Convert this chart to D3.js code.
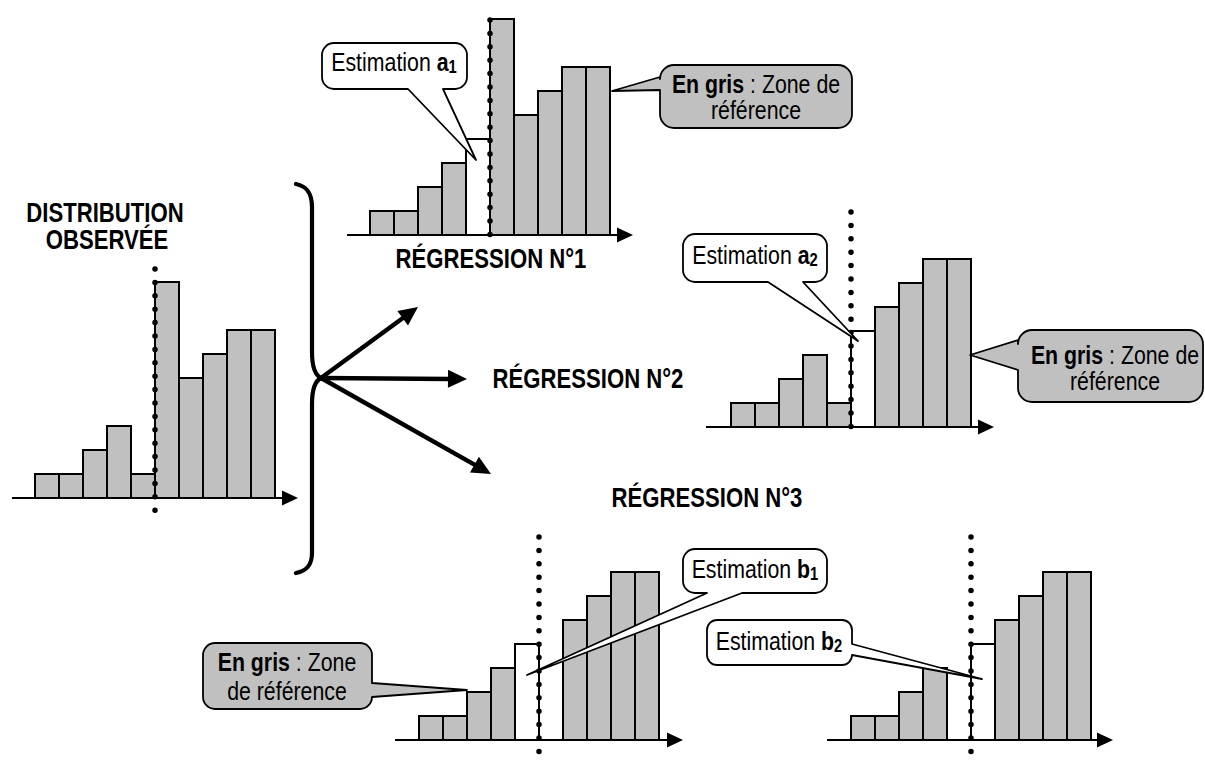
<!DOCTYPE html>
<html><head><meta charset="utf-8">
<script src="https://cdn.jsdelivr.net/npm/d3@7"></script>
<style>body{margin:0;background:#fff}svg{display:block}</style>
</head><body>
<svg id="c" width="1205" height="760"></svg>
<script>
// ---------- DATA ----------
const bins = ["1","2","3","4","5","6","7","8","9","10"];
const observed      = [1, 1, 2, 3, 1, 9, 5, 6, 7, 7];
const regression1   = [1, 1, 2, 3, 4, 9, 5, 6, 7, 7];      // bin 5 = estimation a1
const regression2   = [1, 1, 2, 3, 1, 4, 5, 6, 7, 7];      // bin 6 = estimation a2
const regression3b1 = [1, 1, 2, 3, 4, null, 5, 6, 7, 7];   // bin 5 = estimation b1
const regression3b2 = [1, 1, 2, 3, null, 4, 5, 6, 7, 7];   // bin 6 = estimation b2
const estimated1 = ["5"], estimated2 = ["6"], estimated3b1 = ["5"], estimated3b2 = ["6"];
const cutBin = "6";
const titles = ["DISTRIBUTION", "OBSERVÉE", "RÉGRESSION N°1", "RÉGRESSION N°2", "RÉGRESSION N°3"];
const estLabel = "Estimation ";
const estSymbols = [["a","1"],["a","2"],["b","1"],["b","2"]];
const refBold = "En gris", refRest = " : Zone de", refLine2 = "référence";

// ---------- SETUP ----------
const svg = d3.select("#c");
const BAR_W = 24, UNIT = 24, GREY = "#c0c0c0";
const yMax = d3.max(observed);

function measure(font){
  const t = svg.append("text").style("font", font).text("DISTRIBUTION Estimation référence");
  const w = t.node().getComputedTextLength(); t.remove(); return w;
}
const narrowOK = measure("24px 'Liberation Sans Narrow', 'Liberation Sans'") / measure("24px 'Liberation Sans'") < 0.9;
const FAMILY = narrowOK ? "'Liberation Sans Narrow', 'Arial Narrow', 'Liberation Sans', sans-serif" : "'Liberation Sans', Arial, sans-serif";

const panels = [
  {values: observed,      est: [],           x0: 35,  base: 498, axis: [12, 298],  dot: [269, 522]},
  {values: regression1,   est: estimated1,   x0: 370, base: 235, axis: [347, 633], dot: [20, 235]},
  {values: regression2,   est: estimated2,   x0: 731, base: 427, axis: [706, 994], dot: [212, 427]},
  {values: regression3b1, est: estimated3b1, x0: 419, base: 740, axis: [395, 683], dot: [537, 762]},
  {values: regression3b2, est: estimated3b2, x0: 851, base: 740, axis: [827, 1113], dot: [537, 762]},
];

const gBars = svg.append("g");
panels.forEach(p => {
  const x = d3.scaleBand().domain(bins).range([p.x0, p.x0 + bins.length * BAR_W]);
  const y = d3.scaleLinear().domain([0, yMax]).range([p.base, p.base - yMax * UNIT]);
  const g = gBars.append("g");
  const data = bins.map((b, i) => ({b, v: p.values[i], est: p.est.includes(b)})).filter(d => d.v != null);
  g.selectAll("rect").data(data).join("rect")
    .attr("x", d => x(d.b)).attr("y", d => y(d.v))
    .attr("width", x.bandwidth()).attr("height", d => y(0) - y(d.v))
    .attr("fill", d => d.est ? "#fff" : GREY)
    .attr("stroke", "#000").attr("stroke-width", 2);
  const ab = y(0);
  g.append("line").attr("x1", p.axis[0]).attr("x2", p.axis[1] - 12).attr("y1", ab).attr("y2", ab)
    .attr("stroke", "#000").attr("stroke-width", 2.2);
  g.append("path").attr("d", `M${p.axis[1]},${ab} L${p.axis[1]-16},${ab-7.5} L${p.axis[1]-16},${ab+7.5} Z`).attr("fill", "#000");
  const cx = x(cutBin);
  g.append("line").attr("x1", cx).attr("x2", cx).attr("y1", p.dot[0]).attr("y2", p.dot[1])
    .attr("stroke", "#000").attr("stroke-width", 5.5).attr("stroke-linecap", "round")
    .attr("stroke-dasharray", "0 13.4");
});

// ---------- BRACE + ARROWS ----------
svg.append("path")
  .attr("d", "M296,184 C306,186 312,192 312,207 L312,352 C312,368 315,375 321,378 C315,381 312,388 312,404 L312,553 C312,566 306,571 296,573")
  .attr("fill", "none").attr("stroke", "#000").attr("stroke-width", 4.2).attr("stroke-linecap", "round");

function arrow(x1, y1, x2, y2){
  const L = 19, hw = 9;
  const dx = x2 - x1, dy = y2 - y1, len = Math.hypot(dx, dy), ux = dx/len, uy = dy/len;
  const bx = x2 - ux*L, by = y2 - uy*L;
  svg.append("line").attr("x1", x1).attr("y1", y1).attr("x2", bx + ux*2).attr("y2", by + uy*2)
    .attr("stroke", "#000").attr("stroke-width", 4.5);
  svg.append("path").attr("d", `M${x2},${y2} L${bx - uy*hw},${by + ux*hw} L${bx + uy*hw},${by - ux*hw} Z`).attr("fill", "#000");
}
arrow(321, 378, 418, 307);
arrow(321, 378, 467, 379);
arrow(321, 378, 491, 474);

// ---------- CALLOUTS ----------
function bubblePath(x, y, w, h, r, side, a, b, tx, ty){
  let p = `M${x+r},${y} H${x+w-r} A${r},${r} 0 0 1 ${x+w},${y+r}`;
  if (side === "right") p += ` V${a} L${tx},${ty} L${x+w},${b}`;
  p += ` V${y+h-r} A${r},${r} 0 0 1 ${x+w-r},${y+h}`;
  if (side === "bottom") p += ` H${b} L${tx},${ty} L${a},${y+h}`;
  p += ` H${x+r} A${r},${r} 0 0 1 ${x},${y+h-r}`;
  if (side === "left") p += ` V${b} L${tx},${ty} L${x},${a}`;
  p += ` V${y+r} A${r},${r} 0 0 1 ${x+r},${y} Z`;
  return p;
}
const gC = svg.append("g");
function bubble(c, fill){
  gC.append("path").attr("d", bubblePath(c.x, c.y, c.w, c.h, c.r, c.side, c.a, c.b, c.tx, c.ty))
    .attr("fill", fill).attr("stroke", "#000").attr("stroke-width", 1.8).attr("stroke-linejoin", "round");
}
const texts = [];
function txt(x, y, size, anchor){
  const t = svg.append("text").attr("x", x).attr("y", y).attr("text-anchor", anchor || "middle")
    .style("font-family", FAMILY).style("font-size", size + "px").attr("fill", "#000");
  texts.push(t); return t;
}

const FS = 26;
const estBubbles = [
  {x:322, y:43,  w:145, h:46, r:12, side:"bottom", a:408, b:443, tx:476, ty:160, cx:394, by:71},
  {x:683, y:234, w:144, h:48, r:12, side:"bottom", a:768, b:803, tx:858, ty:341, cx:755, by:264},
  {x:683, y:549, w:144, h:44, r:12, side:"bottom", a:707, b:742, tx:527, ty:675, cx:755, by:578},
  {x:707, y:620, w:145, h:45, r:10, side:"right",  a:644, b:655, tx:982, ty:679, cx:779, by:650},
];
estBubbles.forEach((c, i) => {
  bubble(c, "#fff");
  const t = txt(c.cx, c.by, FS);
  t.append("tspan").text(estLabel);
  t.append("tspan").style("font-weight", "bold").text(estSymbols[i][0]);
  t.append("tspan").style("font-weight", "bold").style("font-size", "18px").attr("dy", 2).text(estSymbols[i][1]);
});

const refBubbles = [
  {x:660,  y:65,  w:192, h:63, r:14, side:"left",  a:77,  b:90,  tx:612, ty:91,  cx:756,  b1:93,  b2:119, split:false},
  {x:1018, y:330, w:185, h:72, r:14, side:"left",  a:340, b:370, tx:970, ty:355, cx:1115, b1:364, b2:390, split:false},
  {x:203,  y:643, w:169, h:66, r:12, side:"right", a:683, b:697, tx:467, ty:690, cx:287,  b1:671, b2:700, split:true},
];
refBubbles.forEach(c => {
  bubble(c, GREY);
  const t1 = txt(c.cx, c.b1, FS);
  t1.append("tspan").style("font-weight", "bold").text(refBold);
  const words = refRest.trim().split(" ");
  if (!c.split) {
    t1.append("tspan").text(refRest);
    txt(c.cx, c.b2, FS).text(refLine2);
  } else {
    t1.append("tspan").text(" " + words.slice(0, 2).join(" "));
    txt(c.cx, c.b2, FS).text(words[2] + " " + refLine2);
  }
});

// ---------- TITLES ----------
const titlePos = [[105, 222], [107, 249], [491, 268], [588, 388], [707, 507]];
titles.forEach((s, i) => {
  txt(titlePos[i][0], titlePos[i][1], 27).style("font-weight", "bold").text(s);
});

if (!narrowOK) {
  texts.forEach(t => {
    const x = +t.attr("x"), y = +t.attr("y");
    t.attr("transform", `translate(${x},${y}) scale(0.82,1) translate(${-x},${-y})`);
  });
}
</script>
</body></html>
